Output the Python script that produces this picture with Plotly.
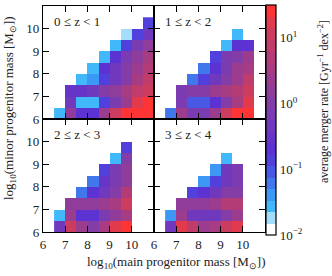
import plotly.graph_objects as go
from plotly.subplots import make_subplots

# bin edges (log10 mass)
x_edges = [6.5, 7.0, 7.5, 8.0, 8.5, 9.0, 9.5, 10.0, 10.5, 11.0]
y_edges = [6.0, 6.5, 7.0, 7.5, 8.0, 8.5, 9.0, 9.5, 10.0, 10.5]
tick_vals = [6, 7, 8, 9, 10]
panel_labels = ["0 ≤ z < 1", "1 ≤ z < 2", "2 ≤ z < 3", "3 ≤ z < 4"]
N = None

# log10(average merger rate) per cell; rows = minor mass bins (6 -> 10.5), cols = main mass bins (6.5 -> 11)
log_rate_z0 = [
    [-1.56, 0.20, -0.65, -0.60, 0.36, 1.06, 1.41, 1.41, 1.41],
    [N, -0.40, -1.56, -1.56, -0.90, -0.20, 0.36, 1.15, 1.41],
    [N, -0.55, -0.45, -0.30, 0.00, 0.20, 0.50, 0.90, 1.06],
    [N, N, -1.56, -1.30, -0.90, -0.40, 0.05, 0.50, 0.95],
    [N, N, N, -1.56, -0.65, -0.30, 0.05, 0.36, 0.80],
    [N, N, N, N, -1.56, -0.65, -0.15, 0.20, 0.55],
    [N, N, N, N, N, -1.56, -0.90, -0.15, 0.20],
    [N, N, N, N, N, N, -1.74, -0.90, -0.40],
    [N, N, N, N, N, N, N, N, -0.90],
]
log_rate_z1 = [
    [-1.15, 0.36, -0.16, -0.16, 0.36, 1.06, 1.41, 1.41, N],
    [N, -0.16, -1.04, -1.04, -0.69, 0.01, 0.54, 1.20, N],
    [N, -0.16, 0.01, 0.01, 0.36, 0.54, 0.71, 1.06, N],
    [N, N, -1.20, -0.86, -0.34, 0.01, 0.36, 0.95, N],
    [N, N, N, -1.20, -0.60, -0.10, 0.30, 0.54, N],
    [N, N, N, N, -0.86, -0.16, 0.10, 0.36, N],
    [N, N, N, N, N, -1.56, -0.60, -0.60, N],
    [N, N, N, N, N, N, -1.56, N, N],
    [N, N, N, N, N, N, N, N, N],
]
log_rate_z2 = [
    [-0.40, 1.06, 0.36, 0.10, 0.45, 1.15, 1.41, N, N],
    [-1.56, 0.36, -0.65, -0.60, -0.16, 0.20, 0.54, N, N],
    [N, 0.20, 0.20, 0.25, 0.40, 0.54, 1.00, N, N],
    [N, N, -1.20, -0.65, -0.40, 0.01, 0.71, N, N],
    [N, N, N, -1.20, -0.55, -0.16, 0.25, N, N],
    [N, N, N, N, -0.86, -0.16, 0.20, N, N],
    [N, N, N, N, N, -1.50, -0.05, N, N],
    [N, N, N, N, N, N, -0.86, N, N],
    [N, N, N, N, N, N, N, N, N],
]
log_rate_z3 = [
    [-0.40, 1.30, 0.90, 0.36, 0.54, 1.10, 1.20, N, N],
    [-1.30, 0.40, -0.30, -0.40, -0.40, 0.05, 0.40, N, N],
    [N, 0.20, 0.20, 0.20, 0.30, 0.71, 0.71, N, N],
    [N, N, -0.86, -0.65, -0.40, 0.05, 0.05, N, N],
    [N, N, N, -1.30, -0.86, -0.30, -0.10, N, N],
    [N, N, N, N, -1.30, -0.30, -0.16, N, N],
    [N, N, N, N, N, -1.56, N, N, N],
    [N, N, N, N, N, N, N, N, N],
    [N, N, N, N, N, N, N, N, N],
]
panels = [log_rate_z0, log_rate_z1, log_rate_z2, log_rate_z3]

# discrete colour levels (20 steps from 1e-2 to 10^1.5)
level_colors = [
    "#ffffff", "#a4dcfc", "#40b8fa", "#3c98f4", "#4078ec",
    "#4858e4", "#5240dc", "#5c32d2", "#6634c6", "#7038bc",
    "#7a3cb0", "#843ca6", "#903c9a", "#9c3c8e", "#a83c82",
    "#b43c76", "#c03c6a", "#cc3c5e", "#e03a4c", "#ff3535",
]
cb_vals = [-2, -1, 0, 1]
cb_text = ["10<sup>−2</sup>", "10<sup>−1</sup>", "10<sup>0</sup>", "10<sup>1</sup>"]
zmin, zmax = -2.0, 1.5

nlev = len(level_colors)
colorscale = []
for i, c in enumerate(level_colors):
    colorscale.append([i / nlev, c])
    colorscale.append([(i + 1) / nlev, c])

FONT = "Liberation Serif"
W, H = 332, 276
L, R, T, B = 43, 67, 6, 44
pw, ph = W - L - R, H - T - B
BOT = T + ph  # pixel y of plot-area bottom

fig = make_subplots(rows=2, cols=2, horizontal_spacing=0, vertical_spacing=0)
for k, zz in enumerate(panels):
    r, c = k // 2 + 1, k % 2 + 1
    fig.add_trace(go.Heatmap(x=x_edges, y=y_edges, z=zz, coloraxis="coloraxis",
                             hoverongaps=False), row=r, col=c)
    fig.add_annotation(x=6.42, y=10.3, text=panel_labels[k], showarrow=False,
                       xanchor="left", yanchor="middle",
                       font=dict(family=FONT, size=13, color="#222"),
                       row=r, col=c)

axis_common = dict(range=[6, 11], tickvals=tick_vals, ticks="inside", ticklen=6,
                   tickwidth=1.3, tickcolor="black", showline=True, linecolor="black",
                   linewidth=1.2, mirror="allticks", showgrid=False, zeroline=False,
                   tickfont=dict(family=FONT, size=13, color="#222"))
for r in (1, 2):
    for c in (1, 2):
        fig.update_xaxes(**axis_common, showticklabels=(r == 2), row=r, col=c)
        fig.update_yaxes(**axis_common, showticklabels=(c == 1), row=r, col=c)

fig.update_layout(
    width=W, height=H, margin=dict(l=L, r=R, t=T, b=B),
    paper_bgcolor="white", plot_bgcolor="white", showlegend=False,
    font=dict(family=FONT, size=13, color="#222"),
    coloraxis=dict(
        colorscale=colorscale, cmin=zmin, cmax=zmax,
        colorbar=dict(
            x=1.004, xanchor="left", y=(BOT - 120) / ph, yanchor="middle",
            lenmode="pixels", len=230, thickness=10, outlinewidth=1.2, outlinecolor="black",
            tickvals=cb_vals, ticktext=cb_text, ticks="", ticklabelposition="outside",
            tickfont=dict(family=FONT, size=13, color="#222"), xpad=0, ypad=0,
        ),
    ),
)

fig.add_annotation(xref="paper", yref="paper", x=(176 - L) / pw, y=(BOT - 262) / ph,
                   text="log<sub>10</sub>(main progenitor mass [M<sub>⊙</sub>])",
                   showarrow=False, xanchor="center", yanchor="middle",
                   font=dict(family=FONT, size=13, color="#222"))
fig.add_annotation(xref="paper", yref="paper", x=(9 - L) / pw, y=(BOT - 108) / ph,
                   text="log<sub>10</sub>(minor progenitor mass [M<sub>⊙</sub>])",
                   showarrow=False, xanchor="center", yanchor="middle", textangle=-90,
                   font=dict(family=FONT, size=13, color="#222"))
fig.add_annotation(xref="paper", yref="paper", x=(323 - L) / pw, y=(BOT - 102) / ph,
                   text="average merger rate [Gyr<sup>−1</sup> dex<sup>−2</sup>]",
                   showarrow=False, xanchor="center", yanchor="middle", textangle=-90,
                   font=dict(family=FONT, size=12, color="#222"))

fig.write_html("out.html", config={"displayModeBar": False},
               post_script="document.body.style.margin='0';document.body.style.overflow='hidden';")
